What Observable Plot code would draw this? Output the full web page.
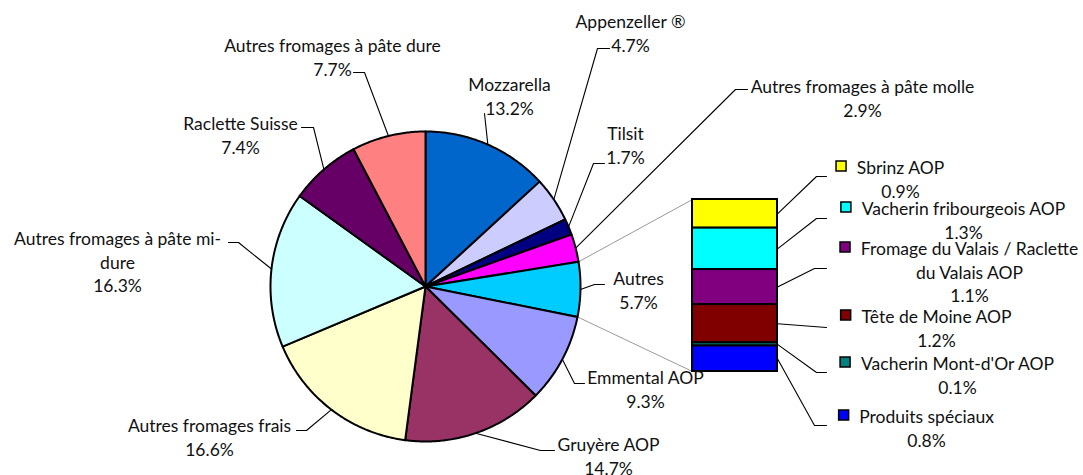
<!DOCTYPE html>
<html><head><meta charset="utf-8">
<script src="https://cdn.jsdelivr.net/npm/d3@7"></script>
<script src="https://cdn.jsdelivr.net/npm/@observablehq/plot@0.6"></script>
<style>html,body{margin:0;padding:0;background:#fff;}</style>
</head><body><div id="chart"></div>
<script>
// ---------- data ----------
const pieNames = ["Mozzarella", "Appenzeller ®", "Tilsit", "Autres fromages à pâte molle", "Autres", "Emmental AOP", "Gruyère AOP", "Autres fromages frais", "Autres fromages à pâte mi-dure", "Raclette Suisse", "Autres fromages à pâte dure"];
const pieValues = [13.2, 4.7, 1.7, 2.9, 5.7, 9.3, 14.7, 16.6, 16.3, 7.4, 7.7];
const pieLabelText = ["Mozzarella", "Appenzeller ®", "Tilsit", "Autres fromages à pâte molle", "Autres", "Emmental AOP", "Gruyère AOP", "Autres fromages frais", "Autres fromages à pâte mi-\ndure", "Raclette Suisse", "Autres fromages à pâte dure"];
const barNames = ["Sbrinz AOP", "Vacherin fribourgeois AOP", "Fromage du Valais / Raclette du Valais AOP", "Tête de Moine AOP", "Vacherin Mont-d'Or AOP", "Produits spéciaux"];
const barValues = [0.9, 1.3, 1.1, 1.2, 0.1, 0.8];
const barLabelText = ["Sbrinz AOP", "Vacherin fribourgeois AOP", "Fromage du Valais / Raclette\ndu Valais AOP", "Tête de Moine AOP", "Vacherin Mont-d'Or AOP", "Produits spéciaux"];

// ---------- styles ----------
const pieColors = ["#0066CC", "#CCCCFF", "#000080", "#FF00FF", "#00CCFF", "#9999FF", "#993366", "#FFFFCC", "#CCFFFF", "#660066", "#FF8080"];
const barColors = ["#FFFF00", "#00FFFF", "#800080", "#800000", "#008080", "#0000FF"];
const FONT = 17.5, LINE = 23.5, FAMILY = "Lato, 'Open Sans', sans-serif";

// ---------- layout ----------
const W = 1083, H = 475;
const pieGeom = {cx: 425, cy: 286, r: 155};
const barGeom = {x0: 692, x1: 777, top: 199, bottom: 371};
const pieLabelAt = [[509, 83], [630, 20], [625, 132], [862, 85], [638, 277], [645, 376], [608, 443], [209, 424], [117, 237], [240, 122], [332, 44]];
const pieLeaderBends = [[[484, 113]], [[597, 48], [609, 48]], [[593, 163], [604, 163]], [[735, 89], [747, 89]], [[594, 284], [604, 284]], [[574, 383], [584, 383]], [[540, 450], [554, 450]], [[306, 430], [296, 430]], [[238, 242], [228, 242]], [[313, 127], [301, 127]], [[364, 72], [353, 72]]];
const barLabelAt = [[900, 166], [963, 207], [969, 247], [936, 315], [957, 362], [926, 415]];
const barLeaderBends = [[[816, 176], [826, 176]], [[816, 218], [826, 218]], [[814, 268], [826, 268]], [[826, 327]], [[816, 372], [826, 372]], [[814, 425], [826, 425]]];

// ---------- derived ----------
const fmt = v => v.toFixed(1) + "%";
const arcs = d3.pie().sort(null).value(d => d)(pieValues);
const polar = (a, r) => [pieGeom.cx + r * Math.sin(a), pieGeom.cy - r * Math.cos(a)];

const slicePts = [];
arcs.forEach((a, i) => {
  const n = Math.max(2, Math.ceil((a.endAngle - a.startAngle) / 0.01));
  const pts = [[pieGeom.cx, pieGeom.cy]];
  for (let k = 0; k <= n; k++) pts.push(polar(a.startAngle + (a.endAngle - a.startAngle) * k / n, pieGeom.r));
  pts.push([pieGeom.cx, pieGeom.cy]);
  pts.forEach(([x, y]) => slicePts.push({name: pieNames[i], color: pieColors[i], x, y}));
});

const barTotal = d3.sum(barValues);
const by = d3.scaleLinear([0, barTotal], [barGeom.bottom, barGeom.top]);
const barRows = [];
let acc = 0;
for (let i = barValues.length - 1; i >= 0; i--) {
  barRows.push({name: barNames[i], color: barColors[i], v0: acc, v1: acc + barValues[i]});
  acc += barValues[i];
}
barRows.reverse();

// connectors from "Autres" slice to the bar
const ai = pieNames.indexOf("Autres");
const connectors = [];
const [sx0, sy0] = polar(arcs[ai].startAngle, pieGeom.r);
const [sx1, sy1] = polar(arcs[ai].endAngle, pieGeom.r);
connectors.push({k: "a", x: sx0, y: sy0}, {k: "a", x: barGeom.x0, y: by(barTotal)});
connectors.push({k: "b", x: sx1, y: sy1}, {k: "b", x: barGeom.x0, y: by(0)});

// leaders
const leaders = [];
arcs.forEach((a, i) => {
  const [x, y] = polar((a.startAngle + a.endAngle) / 2, pieGeom.r);
  leaders.push({k: "p" + i, x, y});
  pieLeaderBends[i].forEach(([bx, byy]) => leaders.push({k: "p" + i, x: bx, y: byy}));
});
barRows.forEach((r, i) => {
  leaders.push({k: "b" + i, x: barGeom.x1, y: by((r.v0 + r.v1) / 2)});
  barLeaderBends[i].forEach(([bx, byy]) => leaders.push({k: "b" + i, x: bx, y: byy}));
});

// labels
const pieLabels = pieNames.map((n, i) => {
  const text = pieLabelText[i] + "\n" + fmt(pieValues[i]);
  const lines = text.split("\n").length;
  return {text, x: pieLabelAt[i][0], y: pieLabelAt[i][1] + (lines - 1) / 2 * LINE};
});
const ctx = document.createElement("canvas").getContext("2d");
ctx.font = `${FONT}px ${FAMILY}`;
const barLabels = barNames.map((n, i) => {
  const text = barLabelText[i] + "\n" + fmt(barValues[i]);
  const lines = text.split("\n");
  const w = ctx.measureText(lines[0]).width;
  const [cx, y0] = barLabelAt[i];
  return {text, x: cx, y: y0 + (lines.length - 1) / 2 * LINE,
    kx2: cx - w / 2 - 10, kx1: cx - w / 2 - 20, ky1: y0 - 5, ky2: y0 + 5, color: barColors[i]};
});

const chart = Plot.plot({
  width: W, height: H, margin: 0,
  x: {domain: [0, W], range: [0, W], axis: null},
  y: {domain: [0, H], range: [0, H], axis: null},
  color: {type: "identity"},
  style: {fontFamily: FAMILY, background: "#fff", overflow: "visible"},
  marks: [
    Plot.line(connectors, {x: "x", y: "y", z: "k", stroke: "#7f7f7f", strokeWidth: 0.8}),
    Plot.line(slicePts, {x: "x", y: "y", z: "name", fill: "color", stroke: "black", strokeWidth: 2, strokeLinejoin: "round"}),
    Plot.rect(barRows, {x1: () => barGeom.x0, x2: () => barGeom.x1, y1: d => by(d.v0), y2: d => by(d.v1), fill: "color", stroke: "black", strokeWidth: 2}),
    Plot.line(leaders, {x: "x", y: "y", z: "k", stroke: "black", strokeWidth: 1.1}),
    Plot.rect(barLabels, {x1: "kx1", x2: "kx2", y1: "ky1", y2: "ky2", fill: "color", stroke: "black", strokeWidth: 1.5}),
    Plot.text(pieLabels, {x: "x", y: "y", text: "text", textAnchor: "middle", lineAnchor: "middle", lineHeight: LINE / FONT, fontSize: FONT, fill: "#111"}),
    Plot.text(barLabels, {x: "x", y: "y", text: "text", textAnchor: "middle", lineAnchor: "middle", lineHeight: LINE / FONT, fontSize: FONT, fill: "#111"})
  ]
});
document.getElementById("chart").appendChild(chart);
</script>
</body></html>
